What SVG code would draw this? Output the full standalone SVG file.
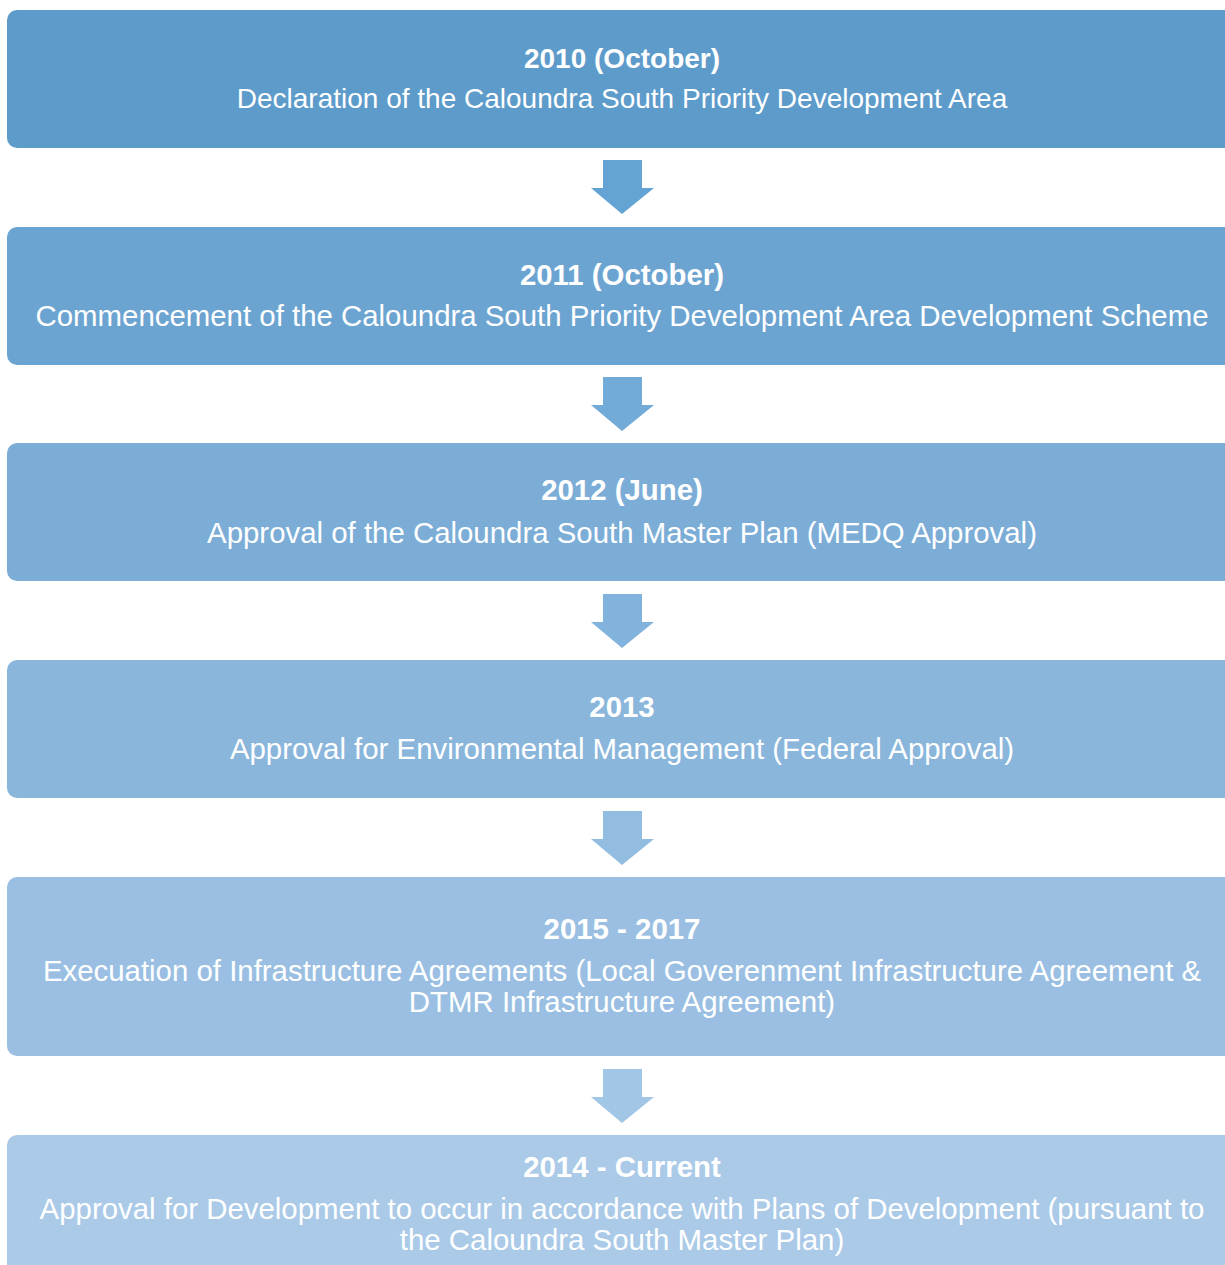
<svg xmlns="http://www.w3.org/2000/svg" width="1225" height="1265" viewBox="0 0 1225 1265">
<style>
.t{font-family:"Liberation Sans",Arial,sans-serif;font-size:29.4px;fill:#ffffff;text-anchor:middle}
.s{font-size:28px}
.b{font-weight:bold}
</style>
<rect width="1225" height="1265" fill="#ffffff"/>
<g id="connectors">
<polygon points="603,160 642,160 642,188 654,188 622,214 591,188 603,188" fill="#64A4D5"/>
<polygon points="603,377 642,377 642,405 654,405 622,431 591,405 603,405" fill="#72AAD8"/>
<polygon points="603,594 642,594 642,622 654,622 622,648 591,622 603,622" fill="#82B3DC"/>
<polygon points="603,811 642,811 642,839 654,839 622,865 591,839 603,839" fill="#92BDE1"/>
<polygon points="603,1069 642,1069 642,1097 654,1097 622,1123 591,1097 603,1097" fill="#A2C6E6"/>
</g>
<g id="n1">
<rect x="7" y="10" width="1240" height="138" rx="10" fill="#5D9BCA"/>
<text class="t s b" x="622" y="68">2010 (October)</text>
<text class="t s" x="622" y="108">Declaration of the Caloundra South Priority Development Area</text>
</g>
<g id="n2">
<rect x="7" y="227" width="1240" height="138" rx="10" fill="#6CA4D1"/>
<text class="t b" x="622" y="285">2011 (October)</text>
<text class="t" x="622" y="326">Commencement of the Caloundra South Priority Development Area Development Scheme</text>
</g>
<g id="n3">
<rect x="7" y="443" width="1240" height="138" rx="10" fill="#7BADD7"/>
<text class="t b" x="622" y="500">2012 (June)</text>
<text class="t" x="622" y="543">Approval of the Caloundra South Master Plan (MEDQ Approval)</text>
</g>
<g id="n4">
<rect x="7" y="660" width="1240" height="138" rx="10" fill="#8AB6DC"/>
<text class="t b" x="622" y="717">2013</text>
<text class="t" x="622" y="759">Approval for Environmental Management (Federal Approval)</text>
</g>
<g id="n5">
<rect x="7" y="877" width="1240" height="179" rx="10" fill="#9ABFE2"/>
<text class="t b" x="622" y="939">2015 - 2017</text>
<text class="t" x="622" y="981">Execuation of Infrastructure Agreements (Local Goverenment Infrastructure Agreement &amp;</text>
<text class="t" x="622" y="1012">DTMR Infrastructure Agreement)</text>
</g>
<g id="n6">
<rect x="7" y="1135" width="1240" height="160" rx="10" fill="#AACAE8"/>
<text class="t b" x="622" y="1177">2014 - Current</text>
<text class="t" x="622" y="1219">Approval for Development to occur in accordance with Plans of Development (pursuant to</text>
<text class="t" x="622" y="1250">the Caloundra South Master Plan)</text>
</g>
</svg>
